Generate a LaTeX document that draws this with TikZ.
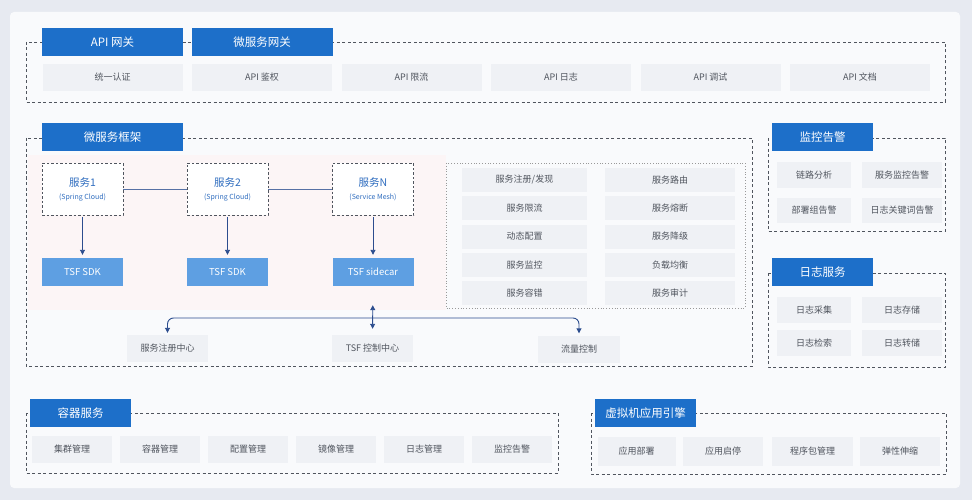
\documentclass[tikz,border=0pt]{standalone}
\usepackage{fontspec}
\setmainfont{Noto Sans CJK SC}
\usetikzlibrary{arrows.meta,calc}
\definecolor{tabblue}{HTML}{1D6FC9}
\definecolor{tsfblue}{HTML}{5E9FE2}
\definecolor{itemfill}{HTML}{EFF1F5}
\definecolor{itemtext}{HTML}{50555E}
\definecolor{dashgray}{HTML}{50555E}
\definecolor{arrowblue}{HTML}{2C4D8E}
\definecolor{svctext}{HTML}{2F6DBF}
\definecolor{outerbg}{HTML}{E7EAF1}
\definecolor{panelbg}{HTML}{F9FAFC}
\definecolor{pinkbg}{HTML}{FCF5F6}
\tikzset{
 tab/.style={fill=tabblue, text=white, inner sep=0pt, font=\fontsize{11.5}{13}\selectfont, minimum height=28pt},
 item/.style={fill=itemfill, text=itemtext, inner sep=0pt, font=\fontsize{9}{11}\selectfont, minimum height=27pt},
 group/.style={draw=dashgray, dash pattern=on 3pt off 2.5pt, line width=0.7pt},
 svc/.style={draw=dashgray, dash pattern=on 2.5pt off 2pt, line width=0.7pt, fill=white, minimum width=81pt, minimum height=52pt, text=svctext, align=center, inner sep=0pt},
 tsf/.style={fill=tsfblue, text=white, minimum width=81pt, minimum height=28pt, inner sep=0pt, font=\fontsize{9.5}{11}\selectfont},
 arr/.style={draw=arrowblue, line width=0.9pt, -{Triangle[length=5pt,width=5pt]}},
 dblarr/.style={draw=arrowblue, line width=0.9pt, {Triangle[length=5pt,width=5pt]}-{Triangle[length=5pt,width=5pt]}},
 link/.style={draw=arrowblue!80, line width=0.6pt},
}
\newcommand{\svctxt}[2]{{\fontsize{10.5}{12}\selectfont #1}\\[1pt]{\fontsize{7}{8}\selectfont #2}}
\begin{document}
\begin{tikzpicture}[x=1pt,y=-1pt]
% backgrounds
\fill[outerbg] (0,0) rectangle (972,500);
\useasboundingbox (0,0) rectangle (972,500);
\fill[panelbg, rounded corners=4pt] (10,12) rectangle (960,488);
\fill[pinkbg] (28,155) rectangle (446,310);

% ===== top: API gateway =====
\draw[group] (26,42) rectangle (945,102);
\node[tab, minimum width=141pt] (tabapi) at (112.5,42) {API 网关};
\node[tab, minimum width=141pt] (tabmsg) at (262,42) {微服务网关};
\node[item, minimum width=140pt] (g1) at (112.5,77.5) {统一认证};
\node[item, minimum width=140pt] (g2) at (262,77.5) {API 鉴权};
\node[item, minimum width=140pt] (g3) at (411.5,77.5) {API 限流};
\node[item, minimum width=140pt] (g4) at (561,77.5) {API 日志};
\node[item, minimum width=140pt] (g5) at (710.5,77.5) {API 调试};
\node[item, minimum width=140pt] (g6) at (860,77.5) {API 文档};

% ===== microservice framework =====
\draw[group] (26,138) rectangle (752,366);
\node[tab, minimum width=141pt] (tabfw) at (112.5,137) {微服务框架};

\node[svc] (s1) at (82.5,189) {\svctxt{服务1}{(Spring Cloud)}};
\node[svc] (s2) at (227.5,189) {\svctxt{服务2}{(Spring Cloud)}};
\node[svc] (s3) at (373,189) {\svctxt{服务N}{(Service Mesh)}};
\draw[link] (s1) -- (s2);
\draw[link] (s2) -- (s3);

\node[tsf] (t1) at (82.5,272) {TSF SDK};
\node[tsf] (t2) at (227.5,272) {TSF SDK};
\node[tsf] (t3) at (373,272) {TSF sidecar};
\draw[arr, shorten <=2pt, shorten >=3pt] (s1) -- (t1);
\draw[arr, shorten <=2pt, shorten >=3pt] (s2) -- (t2);
\draw[arr, shorten <=2pt, shorten >=3pt] (s3) -- (t3);

% capability box
\draw[draw=gray!80, dotted, line width=0.8pt] (446,163) rectangle (745,308);
\node[item, minimum width=125pt, minimum height=24pt] (c1) at (524.5,180) {服务注册/发现};
\node[item, minimum width=125pt, minimum height=24pt] (c2) at (524.5,208.25) {服务限流};
\node[item, minimum width=125pt, minimum height=24pt] (c3) at (524.5,236.5) {动态配置};
\node[item, minimum width=125pt, minimum height=24pt] (c4) at (524.5,264.75) {服务监控};
\node[item, minimum width=125pt, minimum height=24pt] (c5) at (524.5,293) {服务容错};
\node[item, minimum width=130pt, minimum height=24pt] (d1) at (670,180) {服务路由};
\node[item, minimum width=130pt, minimum height=24pt] (d2) at (670,208.25) {服务熔断};
\node[item, minimum width=130pt, minimum height=24pt] (d3) at (670,236.5) {服务降级};
\node[item, minimum width=130pt, minimum height=24pt] (d4) at (670,264.75) {负载均衡};
\node[item, minimum width=130pt, minimum height=24pt] (d5) at (670,293) {服务审计};

% control plane
\node[item, minimum width=81pt] (reg) at (167.5,348.5) {服务注册中心};
\node[item, minimum width=81pt] (ctl) at (372.5,348.5) {TSF 控制中心};
\node[item, minimum width=82pt] (flow) at (579,349) {流量控制};
\coordinate (bus) at (372.5,318);
\draw[dblarr, rounded corners=6pt, shorten <=2pt, shorten >=2pt] (reg.north) |- (bus) -| (flow.north);
\draw[dblarr, shorten <=19pt, shorten >=6pt] (t3.south) -- (ctl.north);

% ===== monitoring =====
\draw[group] (768,138) rectangle (945,231);
\node[tab, minimum width=101pt] (tabmon) at (822.5,137) {监控告警};
\node[item, minimum width=74pt, minimum height=25pt] (m1) at (814,175) {链路分析};
\node[item, minimum width=80pt, minimum height=25pt] (m2) at (902,175) {服务监控告警};
\node[item, minimum width=74pt, minimum height=25pt] (m3) at (814,210) {部署组告警};
\node[item, minimum width=80pt, minimum height=25pt] (m4) at (902,210) {日志关键词告警};

% ===== log service =====
\draw[group] (768,273) rectangle (945,367);
\node[tab, minimum width=101pt] (tablog) at (822.5,272) {日志服务};
\node[item, minimum width=74pt, minimum height=26pt] (l1) at (814,310) {日志采集};
\node[item, minimum width=80pt, minimum height=26pt] (l2) at (902,310) {日志存储};
\node[item, minimum width=74pt, minimum height=26pt] (l3) at (814,343) {日志检索};
\node[item, minimum width=80pt, minimum height=26pt] (l4) at (902,343) {日志转储};

% ===== container service =====
\draw[group] (26,413) rectangle (558,473);
\node[tab, minimum width=101pt] (tabctr) at (80.5,413) {容器服务};
\node[item, minimum width=80pt] (k1) at (72,449.5) {集群管理};
\node[item, minimum width=80pt] (k2) at (160,449.5) {容器管理};
\node[item, minimum width=80pt] (k3) at (248,449.5) {配置管理};
\node[item, minimum width=80pt] (k4) at (336,449.5) {镜像管理};
\node[item, minimum width=80pt] (k5) at (424,449.5) {日志管理};
\node[item, minimum width=80pt] (k6) at (512,449.5) {监控告警};

% ===== VM application engine =====
\draw[group] (591,413) rectangle (946,474);
\node[tab, minimum width=101pt] (tabvm) at (645.5,413) {虚拟机应用引擎};
\node[item, minimum width=78pt, minimum height=29pt] (v1) at (636.5,451.5) {应用部署};
\node[item, minimum width=80pt, minimum height=29pt] (v2) at (723,451.5) {应用启停};
\node[item, minimum width=81pt, minimum height=29pt] (v3) at (812.5,451.5) {程序包管理};
\node[item, minimum width=80pt, minimum height=29pt] (v4) at (900,451.5) {弹性伸缩};
\end{tikzpicture}
\end{document}
